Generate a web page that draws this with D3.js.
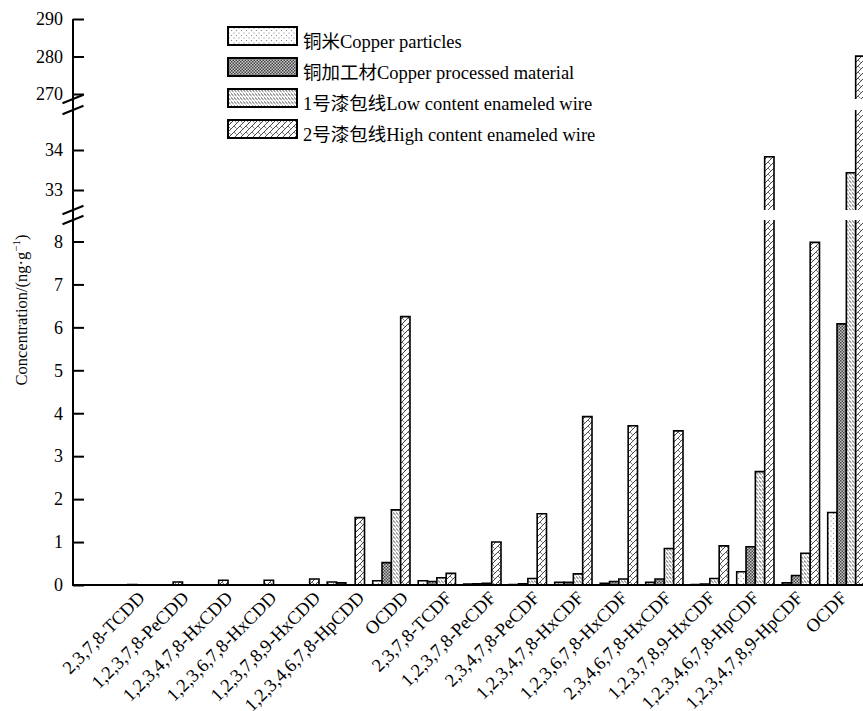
<!DOCTYPE html>
<html>
<head>
<meta charset="utf-8">
<script src="https://cdn.jsdelivr.net/npm/d3@7"></script>
<style>
  body { margin: 0; background: #fff; }
  text { font-family: "Liberation Serif", "Noto Sans CJK SC", serif; fill: #000; }
</style>
</head>
<body>
<script>
var width = 863;
var height = 711;

// categories on the x axis
var categories = ["2,3,7,8-TCDD", "1,2,3,7,8-PeCDD", "1,2,3,4,7,8-HxCDD", "1,2,3,6,7,8-HxCDD",
  "1,2,3,7,8,9-HxCDD", "1,2,3,4,6,7,8-HpCDD", "OCDD", "2,3,7,8-TCDF", "1,2,3,7,8-PeCDF",
  "2,3,4,7,8-PeCDF", "1,2,3,4,7,8-HxCDF", "1,2,3,6,7,8-HxCDF", "2,3,4,6,7,8-HxCDF",
  "1,2,3,7,8,9-HxCDF", "1,2,3,4,6,7,8-HpCDF", "1,2,3,4,7,8,9-HpCDF", "OCDF"];

// series values, ng/g
var copperParticles = [0, 0, 0, 0, 0, 0.07, 0.1, 0.1, 0.02, 0.01, 0.06, 0.04, 0.06, 0.01, 0.31, 0.05, 1.69];
var copperProcessed = [0, 0, 0, 0, 0, 0.05, 0.52, 0.08, 0.03, 0.03, 0.06, 0.08, 0.14, 0.02, 0.89, 0.22, 6.08];
var lowWire = [0, 0, 0, 0, 0, 0, 1.75, 0.17, 0.04, 0.15, 0.26, 0.14, 0.85, 0.15, 2.64, 0.74, 33.43];
var highWire = [0.01, 0.07, 0.11, 0.11, 0.14, 1.57, 6.25, 0.27, 1.0, 1.66, 3.92, 3.71, 3.59, 0.91, 33.83, 7.98, 280.1];

var seriesNames = ["铜米Copper particles", "铜加工材Copper processed material",
  "1号漆包线Low content enameled wire", "2号漆包线High content enameled wire"];

// tick labels for the three pieces of the broken axis
var ticksBottom = [0, 1, 2, 3, 4, 5, 6, 7, 8];
var ticksMid = [33, 34];
var ticksTop = [270, 280, 290];

var series = [copperParticles, copperProcessed, lowWire, highWire];
var patternIds = ["pDots", "pDense", "pLow", "pHigh"];

var svg = d3.select("body").append("svg")
    .attr("width", width)
    .attr("height", height);

// ---- patterns
var defs = svg.append("defs");

var p0 = defs.append("pattern").attr("id", "pDots")
    .attr("patternUnits", "userSpaceOnUse").attr("width", 5).attr("height", 5);
p0.append("rect").attr("width", 5).attr("height", 5).attr("fill", "#fff");
p0.append("circle").attr("cx", 1).attr("cy", 1).attr("r", 0.6).attr("fill", "#777");
p0.append("circle").attr("cx", 3.5).attr("cy", 3.5).attr("r", 0.6).attr("fill", "#777");

var p1 = defs.append("pattern").attr("id", "pDense")
    .attr("patternUnits", "userSpaceOnUse").attr("width", 3).attr("height", 3);
p1.append("rect").attr("width", 3).attr("height", 3).attr("fill", "#c8c8c8");
p1.append("rect").attr("width", 1.5).attr("height", 1.5).attr("fill", "#444");
p1.append("rect").attr("x", 1.5).attr("y", 1.5).attr("width", 1.5).attr("height", 1.5).attr("fill", "#444");

var p2 = defs.append("pattern").attr("id", "pLow")
    .attr("patternUnits", "userSpaceOnUse").attr("width", 3).attr("height", 4);
p2.append("rect").attr("width", 3).attr("height", 4).attr("fill", "#fff");
p2.append("line").attr("x1", 0).attr("y1", 0.5).attr("x2", 2.6).attr("y2", 3)
    .attr("stroke", "#333").attr("stroke-width", 0.9);

var p3 = defs.append("pattern").attr("id", "pHigh")
    .attr("patternUnits", "userSpaceOnUse").attr("width", 6).attr("height", 6);
p3.append("rect").attr("width", 6).attr("height", 6).attr("fill", "#fff");
p3.append("path").attr("d", "M-1,7L7,-1").attr("stroke", "#333").attr("stroke-width", 0.9);
p3.append("path").attr("d", "M0,0L2.5,2.5").attr("stroke", "#555").attr("stroke-width", 0.8);

// ---- scales
var x0 = d3.scaleBand().domain(categories).range([95.6, 869.1]);
var x1 = d3.scaleBand().domain(d3.range(4)).range([0, x0.bandwidth()]).paddingOuter(0.44);
var xLabel = d3.scalePoint().domain(categories).range([146, 848]);

var yBot = d3.scaleLinear().domain([0, 8.5]).range([585, 220]);
var yMid = d3.scaleLinear().domain([32.5, 35.0]).range([210, 110]);
var yTop = d3.scaleLinear().domain([268.67, 290]).range([99, 19]);
var pieces = [yBot, yMid, yTop];

var axisX = 73;

// ---- bars
var barG = svg.append("g");
categories.forEach(function(cat, i) {
  series.forEach(function(vals, s) {
    var v = vals[i];
    if (!v) return;
    var bx = x0(cat) + x1(s);
    var bw = x1.bandwidth();
    pieces.forEach(function(sc) {
      var d = sc.domain();
      if (v <= d[0]) return;
      var yb = sc(d[0]);
      var isTop = v <= d[1];
      var yt = isTop ? sc(v) : sc(d[1]);
      barG.append("rect")
          .attr("x", bx).attr("y", yt)
          .attr("width", bw).attr("height", yb - yt)
          .attr("fill", "url(#" + patternIds[s] + ")");
      var path = isTop
        ? "M" + bx + "," + yb + "V" + yt + "H" + (bx + bw) + "V" + yb
        : "M" + bx + "," + yb + "V" + yt + "M" + (bx + bw) + "," + yt + "V" + yb;
      barG.append("path").attr("d", path)
          .attr("fill", "none").attr("stroke", "#000").attr("stroke-width", 1.6);
    });
  });
});

// ---- axes
function drawAxis(sc, ticks) {
  var g = svg.append("g")
      .attr("transform", "translate(" + axisX + ",0)")
      .call(d3.axisLeft(sc).tickValues(ticks).tickFormat(d3.format("d"))
        .tickSizeInner(-11).tickSizeOuter(0).tickPadding(10));
  g.select(".domain").remove();
  g.selectAll(".tick line").attr("stroke", "#000").attr("stroke-width", 2);
  g.selectAll(".tick text")
      .attr("font-size", 18)
      .attr("font-family", "Liberation Serif, serif");
}
drawAxis(yBot, ticksBottom);
drawAxis(yMid, ticksMid);
drawAxis(yTop, ticksTop);

svg.append("line")
    .attr("x1", axisX).attr("x2", axisX)
    .attr("y1", yTop(290)).attr("y2", yBot(0))
    .attr("stroke", "#000").attr("stroke-width", 2);

svg.append("line")
    .attr("x1", axisX - 1).attr("x2", width)
    .attr("y1", yBot(0)).attr("y2", yBot(0))
    .attr("stroke", "#000").attr("stroke-width", 2);

// break marks
var breakYs = [yTop.range()[0], yMid.range()[1], yMid.range()[0], yBot.range()[1]];
breakYs.forEach(function(by) {
  svg.append("line")
      .attr("x1", axisX - 10.5).attr("y1", by + 4.2)
      .attr("x2", axisX + 10.5).attr("y2", by - 4.2)
      .attr("stroke", "#000").attr("stroke-width", 2);
});

// x labels
svg.append("g").selectAll("text")
    .data(categories)
    .enter().append("text")
    .attr("transform", function(d) { return "translate(" + xLabel(d) + ",599) rotate(-45)"; })
    .attr("text-anchor", "end")
    .attr("font-size", 18.5)
    .text(function(d) { return d; });

// y title
var yt = svg.append("text")
    .attr("transform", "translate(27,310) rotate(-90)")
    .attr("text-anchor", "middle")
    .attr("font-size", 16.5);
yt.append("tspan").text("Concentration/(ng·g");
yt.append("tspan").attr("dy", -7).attr("font-size", 11).text("−1");
yt.append("tspan").attr("dy", 7).text(")");

// legend
var leg = svg.append("g").attr("transform", "translate(228,27)");
seriesNames.forEach(function(name, i) {
  var row = leg.append("g").attr("transform", "translate(0," + (i * 31) + ")");
  row.append("rect")
      .attr("width", 69).attr("height", 18)
      .attr("fill", "url(#" + patternIds[i] + ")")
      .attr("stroke", "#000").attr("stroke-width", 2);
  row.append("text")
      .attr("x", 75).attr("y", 21)
      .attr("font-size", 18.5)
      .text(name);
});
</script>
</body>
</html>
